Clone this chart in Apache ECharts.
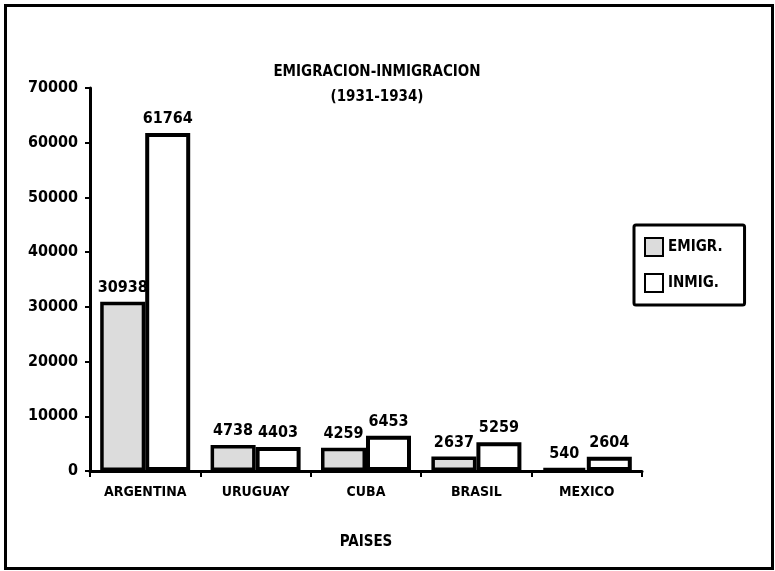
<!DOCTYPE html>
<html><head><meta charset="utf-8">
<script src="https://cdn.jsdelivr.net/npm/echarts@6/dist/echarts.min.js"></script>
<style>html,body{margin:0;padding:0;background:#fff}#c{width:775px;height:571px}</style>
</head><body><div id="c"></div>
<script>
var categories = ['ARGENTINA', 'URUGUAY', 'CUBA', 'BRASIL', 'MEXICO'];
var emigr = [30938, 4738, 4259, 2637, 540];
var inmig = [61764, 4403, 6453, 5259, 2604];
var yTicks = [0, 10000, 20000, 30000, 40000, 50000, 60000, 70000];
var titleText = 'EMIGRACION-INMIGRACION';
var subtitleText = '(1931-1934)';
var xName = 'PAISES';

var font = 'DejaVu Sans Condensed, DejaVu Sans, sans-serif';
var chart = echarts.init(document.getElementById('c'), null, {renderer: 'canvas'});
chart.setOption({
  backgroundColor: '#fff',
  animation: false,
  title: {
    text: titleText, subtext: subtitleText,
    left: 372, top: 60, textAlign: 'center', itemGap: 10,
    textStyle: {fontFamily: font, fontSize: 15, fontWeight: 'bold', color: '#000'},
    subtextStyle: {fontFamily: font, fontSize: 15, fontWeight: 'bold', color: '#000'}
  },
  legend: {
    orient: 'vertical', left: 634, top: 225, width: 109,
    padding: [12, 22, 12, 10], itemGap: 16, itemWidth: 18, itemHeight: 18,
    icon: 'rect',
    borderColor: '#000', borderWidth: 3, borderRadius: 2,
    textStyle: {fontFamily: font, fontSize: 15, fontWeight: 'bold', color: '#000'},
    data: ['EMIGR.', 'INMIG.']
  },
  grid: {left: 90, right: 133, top: 88, bottom: 100, containLabel: false},
  xAxis: {
    type: 'category', data: categories,
    name: xName, nameLocation: 'middle', nameGap: 64,
    nameTextStyle: {fontFamily: font, fontSize: 15, fontWeight: 'bold', color: '#000'},
    axisLine: {lineStyle: {color: '#000', width: 3}},
    axisTick: {show: true, interval: 0, length: 6, lineStyle: {color: '#000', width: 2}},
    axisLabel: {interval: 0, hideOverlap: false, fontFamily: font, fontSize: 14, fontWeight: 'bold', color: '#000', margin: 14}
  },
  yAxis: {
    type: 'value', min: yTicks[0], max: yTicks[yTicks.length - 1], interval: 10000,
    axisLine: {show: true, lineStyle: {color: '#000', width: 3}},
    axisTick: {show: true, inside: false, length: 5, lineStyle: {color: '#000', width: 2}},
    splitLine: {show: false},
    axisLabel: {fontFamily: font, fontSize: 16, fontWeight: 'bold', color: '#000', margin: 12,
      formatter: function (v) { return String(v); }}
  },
  series: [
    {
      name: 'EMIGR.', type: 'bar', data: emigr, barWidth: 45, barGap: '0%',
      itemStyle: {color: '#dcdcdc', borderColor: '#000', borderWidth: 3.5},
      label: {show: true, position: 'top', distance: 6, fontFamily: font, fontSize: 16, fontWeight: 'bold', color: '#000'}
    },
    {
      name: 'INMIG.', type: 'bar', data: inmig, barWidth: 45,
      itemStyle: {color: '#ffffff', borderColor: '#000', borderWidth: 4},
      label: {show: true, position: 'top', distance: 6, fontFamily: font, fontSize: 16, fontWeight: 'bold', color: '#000'}
    }
  ],
  graphic: [
    {type: 'rect', left: 3, top: 3, shape: {width: 767, height: 563},
     style: {fill: 'none', stroke: '#000', lineWidth: 3}, silent: true}
  ]
});
</script></body></html>
